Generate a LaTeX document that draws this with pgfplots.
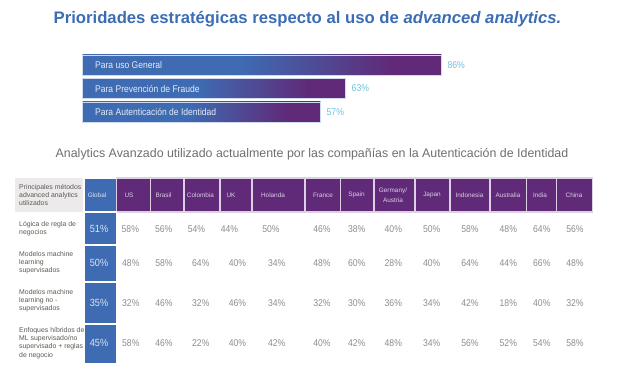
\documentclass[border=0pt]{standalone}
\usepackage{fontspec}
\setmainfont{Liberation Sans}
\newfontfamily\narrowfont[FakeStretch=0.88]{Liberation Sans}
\usepackage{pgfplots}
\pgfplotsset{compat=1.18}
\usepackage{pgfplotstable}
\definecolor{ctitle}{HTML}{3C6DB4}
\definecolor{cblue}{HTML}{3E6BB2}
\definecolor{cpurp}{HTML}{602A78}
\definecolor{cgrayc}{HTML}{EDEAEB}
\definecolor{cval}{HTML}{8C8C8C}
\definecolor{clbl}{HTML}{5A5A52}
\definecolor{cbarval}{HTML}{6CBFE0}
\definecolor{cbarlbl}{HTML}{E6ECF5}
\definecolor{chead}{HTML}{DCCFE6}
\definecolor{cghead}{HTML}{DDE5F2}
\definecolor{csub}{HTML}{6E6E6E}
\definecolor{cpgap}{HTML}{DCD0E4}
\pgfdeclarehorizontalshading{barsh}{100bp}{color(0bp)=(cblue); color(25bp)=(cblue); color(47bp)=(cblue); color(68bp)=(cpurp); color(100bp)=(cpurp)}
\newcommand\fs[2]{\fontsize{#1bp}{#2bp}\selectfont}
\newcommand\hcell[4]{%
  \fill[cpurp, draw=cpgap, line width=1.2bp] (axis cs:#1,178) rectangle (axis cs:#2,212);
  \node[anchor=center, align=center, inner sep=0pt, font=\fs{6.4}{9}, text=chead] at (axis cs:#3,195) {#4};}
\newcommand\gcell[2]{%
  \fill[cblue, draw=white, line width=1.6bp] (axis cs:84,#1) rectangle (axis cs:116.5,#2);}

\pgfplotstableread{
xa x r1 r2 r3 r4
130.3 130.8 58 48 32 58
163.7 164.0 56 58 46 46
196.5 200.8 54 64 32 22
229.5 237.5 44 40 46 40
271.0 276.7 50 34 34 42
322.0 322.0 46 48 32 40
356.7 356.7 38 60 30 42
393.3 393.3 40 28 36 48
431.7 431.7 50 40 34 34
470.0 470.0 58 64 42 56
508.3 508.3 48 44 18 52
541.8 541.8 64 66 40 54
575.0 575.0 56 48 32 58
}\countries

\begin{document}
\begin{tikzpicture}
\begin{axis}[at={(0,0)}, anchor=south west, scale only axis,
  width=617bp, height=376bp, xmin=0, xmax=617, ymin=0, ymax=376,
  y dir=reverse, hide axis, clip=false, /pgf/number format/assume math mode=true]
\addplot[draw=none, mark=none] coordinates {(0,0) (617,376)};
% title
\node[anchor=base, inner sep=0pt, font=\bfseries\fs{16.7}{20}, text=ctitle] at (axis cs:307.5,23.3)
  {Prioridades estratégicas respecto al uso de \textit{advanced analytics.}};
% subtitle
\node[anchor=base, inner sep=0pt, font=\fs{12.4}{15}, text=csub] at (axis cs:312,157.7)
  {Analytics Avanzado utilizado actualmente por las compañías en la Autenticación de Identidad};
% header
\fill[cgrayc] (axis cs:15,178) rectangle (axis cs:84,212);
\node[anchor=west, align=left, inner sep=0pt, font=\fs{6.9}{8.3}, text=clbl] at (axis cs:19,195)
  {Principales métodos\\advanced analytics\\utilizados};
\gcell{178}{212}
\node[anchor=center, inner sep=0pt, font=\fs{6.4}{9}, text=cghead] at (axis cs:97,195) {Global};
\hcell{116.5}{150.7}{129}{US}
\hcell{150.7}{184}{163.5}{Brasil}
\hcell{184}{220}{200.5}{Colombia}
\hcell{220}{252}{231}{UK}
\hcell{252}{305}{273}{Holanda}
\hcell{305}{340.7}{323}{France}
\hcell{340.7}{374}{356.5}{Spain}
\hcell{374}{415}{393}{Germany/\\[1bp]Austria}
\hcell{415}{450}{432}{Japan}
\hcell{450}{490}{469.5}{Indonesia}
\hcell{490}{526.7}{508}{Australia}
\hcell{526.7}{556.7}{540}{India}
\hcell{556.7}{592.7}{574}{China}
% global column cells
\gcell{212}{245}
\gcell{245}{282}
\gcell{282}{324}
\gcell{324}{364}
% row labels
\node[anchor=west, align=left, inner sep=0pt, font=\fs{6.9}{8.0}, text=clbl] at (axis cs:19,228.5)
  {Lógica de regla de\\negocios};
\node[anchor=west, align=left, inner sep=0pt, font=\fs{6.9}{8.0}, text=clbl] at (axis cs:19,263)
  {Modelos machine\\learning\\supervisados};
\node[anchor=west, align=left, inner sep=0pt, font=\fs{6.9}{8.0}, text=clbl] at (axis cs:19,300.5)
  {Modelos machine\\learning no -\\supervisados};
\node[anchor=west, align=left, inner sep=0pt, font=\fs{6.9}{8.3}, text=clbl] at (axis cs:19,343)
  {Enfoques híbridos de\\ML supervisado/no\\supervisado + reglas\\de negocio};
% values
\pgfplotsset{valstyle/.style={draw=none, mark=none, point meta=explicit,
  nodes near coords={\pgfmathprintnumber[fixed,precision=0]{\pgfplotspointmeta}\%},
  every node near coord/.append style={anchor=center, inner sep=0pt, font=\narrowfont\fs{9.8}{11}, text=cval}}}
\addplot[valstyle] table[x=xa, y expr=229, meta=r1] {\countries};
\addplot[valstyle] table[x=x, y expr=263.3, meta=r2] {\countries};
\addplot[valstyle] table[x=x, y expr=302.7, meta=r3] {\countries};
\addplot[valstyle] table[x=x, y expr=343.3, meta=r4] {\countries};
\addplot[valstyle, every node near coord/.append style={text=cghead, font=\narrowfont\fs{10.4}{12}}]
  coordinates {(99,229) [51] (99,263.3) [50] (99,302.7) [35] (99,343.3) [45]};
\end{axis}

\begin{axis}[at={(82.7bp,252.25bp)}, anchor=south west, scale only axis,
  width=417bp, height=70.5bp, xmin=0, xmax=100, ymin=0.5, ymax=3.5,
  y dir=reverse, hide x axis, axis line style={draw=none}, major tick length=0pt,
  axis on top, /pgf/number format/assume math mode=true,
  ytick={1,2,3}, yticklabels={Para uso General, Para Prevención de Fraude, Para Autenticación de Identidad},
  yticklabel style={anchor=west, xshift=12.3bp, inner sep=0pt, text=cbarlbl, font=\narrowfont\fs{9.7}{11}},
  clip=false]
\pgfplotsset{barstyle/.style={xbar, bar width=20bp, bar shift=0pt, shade, shading=barsh,
  draw=white!75!cblue, line width=0.6bp, point meta=x,
  nodes near coords={\pgfmathprintnumber[fixed,precision=0]{\pgfplotspointmeta}\%},
  every node near coord/.append style={anchor=west, inner sep=0pt, xshift=6bp, text=cbarval, font=\narrowfont\fs{9.8}{11}}}}
\addplot[barstyle] coordinates {(86,1)};
\addplot[barstyle] coordinates {(63,2)};
\addplot[barstyle] coordinates {(57,3)};
\end{axis}
\end{tikzpicture}
\end{document}
